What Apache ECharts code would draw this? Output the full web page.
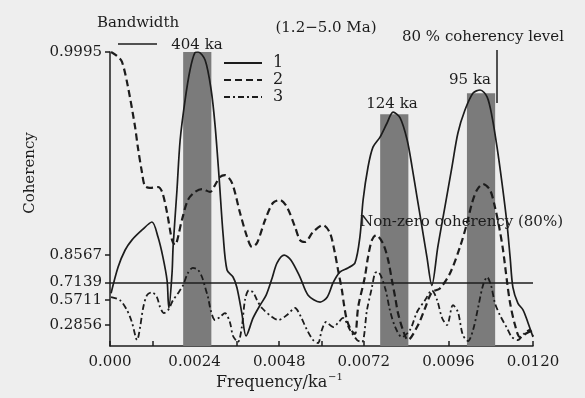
<!DOCTYPE html>
<html><head><meta charset="utf-8">
<script src="https://cdn.jsdelivr.net/npm/echarts@6/dist/echarts.min.js"></script>
<style>html,body{margin:0;padding:0;background:#eeeeee}#c{width:585px;height:398px}</style>
</head><body><div id="c"></div>
<script>
// Frequency (ka^-1) vs coherency
const curve1 = [[0.00003,0.632],[0.00023,0.806],[0.00043,0.875],[0.00062,0.904],[0.00091,0.927],[0.00119,0.9413],[0.00136,0.912],[0.00150,0.850],[0.00162,0.726],[0.00165,0.570],[0.00167,0.490],[0.00176,0.774],[0.00179,0.885],[0.00190,0.9758],[0.00199,0.99403],[0.00213,0.99806],[0.00227,0.99917],[0.00241,0.99949],[0.00250,0.99950],[0.00270,0.99937],[0.00287,0.99854],[0.00298,0.99608],[0.00309,0.9840],[0.00321,0.916],[0.00332,0.790],[0.00349,0.750],[0.00360,0.678],[0.00374,0.434],[0.00386,0.140],[0.00406,0.376],[0.00426,0.521],[0.00443,0.615],[0.00460,0.744],[0.00474,0.825],[0.00494,0.857],[0.00513,0.838],[0.00539,0.750],[0.00562,0.615],[0.00596,0.551],[0.00616,0.597],[0.00633,0.713],[0.00652,0.779],[0.00675,0.801],[0.00695,0.825],[0.00709,0.912],[0.00718,0.968],[0.00732,0.98725],[0.00746,0.9927],[0.00766,0.9945],[0.00786,0.9963],[0.00803,0.99728],[0.00823,0.99679],[0.00843,0.99403],[0.00857,0.98725],[0.00871,0.9705],[0.00885,0.933],[0.00899,0.850],[0.00913,0.693],[0.00930,0.885],[0.00950,0.9611],[0.00970,0.98725],[0.00987,0.99510],[0.01007,0.99743],[0.01030,0.99841],[0.01050,0.99854],[0.01070,0.99822],[0.01084,0.99687],[0.01098,0.9927],[0.01112,0.9801],[0.01126,0.9396],[0.01135,0.850],[0.01143,0.678],[0.01157,0.541],[0.01172,0.468],[0.01186,0.314],[0.01200,0.126]];
const curve2 = [[0.00003,0.99950],[0.00020,0.99944],[0.00034,0.99934],[0.00051,0.99866],[0.00071,0.9959],[0.00079,0.9927],[0.00091,0.9849],[0.00099,0.9783],[0.00113,0.9771],[0.00136,0.9777],[0.00148,0.9744],[0.00162,0.9541],[0.00176,0.9042],[0.00184,0.8906],[0.00204,0.9444],[0.00221,0.9680],[0.00241,0.9744],[0.00261,0.9764],[0.00284,0.9744],[0.00298,0.9789],[0.00312,0.9831],[0.00326,0.9840],[0.00346,0.9801],[0.00369,0.9541],[0.00389,0.9117],[0.00403,0.8846],[0.00417,0.8962],[0.00440,0.9444],[0.00462,0.9652],[0.00482,0.9680],[0.00502,0.9611],[0.00525,0.9327],[0.00539,0.9042],[0.00553,0.8990],[0.00576,0.9229],[0.00604,0.9362],[0.00624,0.9207],[0.00638,0.8647],[0.00647,0.790],[0.00658,0.656],[0.00664,0.521],[0.00672,0.351],[0.00684,0.222],[0.00695,0.168],[0.00704,0.500],[0.00723,0.750],[0.00732,0.850],[0.00743,0.904],[0.00755,0.916],[0.00774,0.896],[0.00789,0.838],[0.00800,0.726],[0.00809,0.597],[0.00817,0.434],[0.00831,0.222],[0.00845,0.084],[0.00874,0.288],[0.00894,0.490],[0.00913,0.640],[0.00936,0.671],[0.00965,0.774],[0.00993,0.885],[0.01013,0.9396],[0.01027,0.9652],[0.01041,0.9758],[0.01058,0.9795],[0.01078,0.9758],[0.01092,0.9611],[0.01104,0.9327],[0.01115,0.875],[0.01126,0.726],[0.01135,0.541],[0.01149,0.288],[0.01163,0.126],[0.01183,0.181],[0.01200,0.222]];
const curve3 = [[0.00003,0.597],[0.00028,0.570],[0.00048,0.468],[0.00062,0.326],[0.00077,0.084],[0.00085,0.249],[0.00094,0.490],[0.00105,0.615],[0.00119,0.640],[0.00133,0.597],[0.00142,0.500],[0.00153,0.434],[0.00165,0.468],[0.00179,0.570],[0.00193,0.632],[0.00207,0.693],[0.00221,0.774],[0.00235,0.801],[0.00250,0.790],[0.00261,0.750],[0.00270,0.678],[0.00278,0.597],[0.00287,0.446],[0.00298,0.351],[0.00312,0.388],[0.00326,0.434],[0.00340,0.326],[0.00349,0.140],[0.00363,0.056],[0.00374,0.262],[0.00383,0.570],[0.00394,0.656],[0.00406,0.640],[0.00417,0.570],[0.00431,0.490],[0.00460,0.388],[0.00477,0.351],[0.00502,0.411],[0.00525,0.490],[0.00539,0.411],[0.00559,0.222],[0.00576,0.084],[0.00590,0.042],[0.00601,0.222],[0.00613,0.326],[0.00633,0.262],[0.00647,0.314],[0.00661,0.376],[0.00681,0.222],[0.00701,0.084],[0.00715,0.056],[0.00729,0.468],[0.00743,0.678],[0.00752,0.774],[0.00760,0.779],[0.00780,0.678],[0.00794,0.468],[0.00809,0.262],[0.00828,0.126],[0.00851,0.222],[0.00871,0.446],[0.00894,0.570],[0.00913,0.656],[0.00928,0.570],[0.00942,0.376],[0.00956,0.288],[0.00973,0.521],[0.00987,0.446],[0.01001,0.154],[0.01016,0.070],[0.01030,0.222],[0.01044,0.490],[0.01058,0.693],[0.01070,0.750],[0.01081,0.693],[0.01092,0.541],[0.01106,0.411],[0.01126,0.249],[0.01140,0.126],[0.01157,0.084],[0.01174,0.168],[0.01191,0.222],[0.01200,0.140]];

const seriesNames = ['1', '2', '3'];
const yTickLabels = [0.2856, 0.5711, 0.7139, 0.8567, 0.9995];
const xMax = 0.012, xStep = 0.0012;
const bandPeriods = [404, 124, 95];          // ka
const bandTops = [0.9995, 0.9971, 0.9984];   // coherency at top of shaded band
const bandWidth = 0.0008;                    // ka^-1
const nonZeroLevel = 0.71;

const atanh = c => 0.5 * Math.log((1 + c) / (1 - c));
const toAxis = arr => arr.map(p => [p[0], atanh(p[1])]);
const FONT = 'DejaVu Serif';
const INK = '#1c1c1c';

const chart = echarts.init(document.getElementById('c'));
const txt = (text, x, y, align, size) => ({
  type: 'text', z: 50,
  style: { text, x, y, align: align || 'left', verticalAlign: 'middle',
           font: (size || 15) + 'px "' + FONT + '"', fill: INK }
});

chart.setOption({
  backgroundColor: '#eeeeee',
  animation: false,
  grid: { left: 110, top: 52, width: 423, height: 294, containLabel: false },
  legend: {
    data: seriesNames, orient: 'vertical', left: 223, top: 55, padding: 0,
    itemWidth: 38, itemHeight: 12, itemGap: 1,
    itemStyle: { opacity: 0 },
    textStyle: { fontFamily: FONT, fontSize: 16, lineHeight: 16, color: INK, padding: [0, 0, 0, 6] }
  },
  xAxis: {
    type: 'value', min: 0, max: xMax, interval: xStep,
    axisLine: { show: true, lineStyle: { color: INK, width: 1.5 } },
    axisTick: { show: true, inside: true, length: 5, lineStyle: { color: INK, width: 1.5 } },
    axisLabel: {
      margin: 9, fontFamily: FONT, fontSize: 15, color: INK,
      formatter: v => { const i = Math.round(v / xStep); if (i % 2) return ''; return i === 0 ? '0.000' : v.toFixed(4); }
    },
    splitLine: { show: false }
  },
  yAxis: {
    type: 'value', min: 0, max: atanh(0.9995),
    axisLine: { show: true, lineStyle: { color: INK, width: 1.5 } },
    axisTick: { show: true, inside: false, length: 5, customValues: yTickLabels.map(atanh), lineStyle: { color: INK, width: 1.5 } },
    axisLabel: {
      customValues: yTickLabels.map(atanh), margin: 8, fontFamily: FONT, fontSize: 15, color: INK,
      formatter: v => Math.tanh(v).toFixed(4)
    },
    splitLine: { show: false }
  },
  series: [
    {
      type: 'line', name: 'bands', data: [], z: 1, silent: true,
      markArea: {
        silent: true,
        itemStyle: { color: '#7b7b7b' },
        data: bandPeriods.map((p, i) => [
          { xAxis: 1 / p - bandWidth / 2, yAxis: 0 },
          { xAxis: 1 / p + bandWidth / 2, yAxis: atanh(bandTops[i]) }
        ])
      },
      markLine: {
        silent: true, symbol: 'none', label: { show: false },
        lineStyle: { color: INK, type: 'solid', width: 1.5 },
        data: [{ yAxis: atanh(nonZeroLevel) }]
      }
    },
    { type: 'line', name: seriesNames[0], data: toAxis(curve1), z: 5, smooth: 0.3, symbol: 'none',
      itemStyle: { color: INK }, lineStyle: { color: INK, width: 1.7, type: 'solid' } },
    { type: 'line', name: seriesNames[1], data: toAxis(curve2), z: 4, smooth: 0.3, symbol: 'none',
      itemStyle: { color: INK }, lineStyle: { color: INK, width: 2.2, type: [7, 4] } },
    { type: 'line', name: seriesNames[2], data: toAxis(curve3), z: 4, smooth: 0.3, symbol: 'none',
      itemStyle: { color: INK }, lineStyle: { color: INK, width: 1.8, type: [6, 3, 2, 3] } }
  ],
  graphic: [
    txt('Bandwidth', 97, 23),
    { type: 'line', z: 50, shape: { x1: 118, y1: 44, x2: 157, y2: 44 }, style: { stroke: INK, lineWidth: 1.5 } },
    txt('404 ka', 197, 45, 'center'),
    txt('(1.2\u22125.0 Ma)', 326, 28, 'center'),
    txt('80 % coherency level', 402, 37),
    { type: 'line', z: 50, shape: { x1: 497, y1: 50, x2: 497, y2: 103 }, style: { stroke: INK, lineWidth: 1.5 } },
    txt('95 ka', 470, 80, 'center'),
    txt('124 ka', 392, 104, 'center'),
    txt('Non-zero coherency (80%)', 360, 222),
    { type: 'text', z: 50, x: 30, y: 173, rotation: Math.PI / 2,
      style: { text: 'Coherency', x: 0, y: 0, align: 'center', verticalAlign: 'middle', font: '15px "' + FONT + '"', fill: INK } },
    txt('Frequency/ka', 216, 383, 'left', 16),
    txt('\u22121', 328, 377, 'left', 10)
  ]
});
</script></body></html>
